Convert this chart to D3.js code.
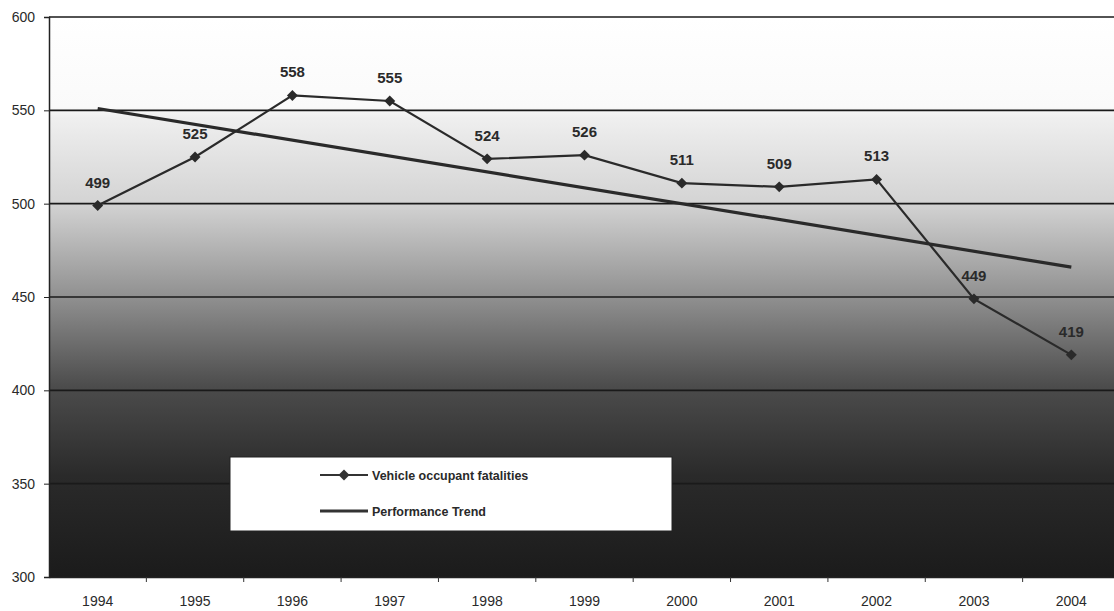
<!DOCTYPE html>
<html><head><meta charset="utf-8">
<script src="https://cdn.jsdelivr.net/npm/d3@7"></script>
<style>body{margin:0;background:#fff;}svg{display:block;}</style>
</head><body>
<svg id="c" width="1114" height="611"></svg>
<script>
const years = ["1994","1995","1996","1997","1998","1999","2000","2001","2002","2003","2004"];
const fatalities = [499,525,558,555,524,526,511,509,513,449,419];
const trendYears = ["1994","2004"];
const trendValues = [551,466];
const yTicks = [300,350,400,450,500,550,600];
const legendLabels = ["Vehicle occupant fatalities","Performance Trend"];

(function(){
const svg = d3.select("#c");
const pL = 49, pR = 1120, pT = 17, pB = 577;
const x = d3.scaleBand().domain(years).range([pL, pR]);
const y = d3.scaleLinear().domain([300,600]).range([pB, pT]);
const cx = d => x(d) + x.bandwidth()/2;
const font = "Arial, Liberation Sans, sans-serif";

const defs = svg.append("defs");
const g = defs.append("linearGradient").attr("id","bg").attr("x1",0).attr("y1",0).attr("x2",0).attr("y2",1);
[[0,"#ffffff"],[0.16,"#fafafa"],[0.18,"#efefef"],[0.33,"#d4d4d4"],[0.5,"#909090"],[0.66,"#4c4c4c"],[0.82,"#2a2a2a"],[1,"#1b1b1b"]]
  .forEach(([o,c]) => g.append("stop").attr("offset",o).attr("stop-color",c));

svg.append("rect").attr("x",pL).attr("y",pT).attr("width",pR-pL).attr("height",pB-pT).attr("fill","url(#bg)");

svg.append("g").selectAll("line").data(yTicks.filter(t=>t>300)).join("line")
  .attr("x1",pL).attr("x2",pR).attr("y1",d=>y(d)).attr("y2",d=>y(d))
  .attr("stroke","#1a1a1a").attr("stroke-width",1.6);

const ya = svg.append("g").attr("transform",`translate(${pL},0)`)
  .call(d3.axisLeft(y).tickValues(yTicks).tickSize(5).tickPadding(9));
ya.attr("font-size",null);
ya.select(".domain").attr("stroke","#222").attr("stroke-width",1.5);
ya.selectAll(".tick line").attr("stroke","#222");
ya.selectAll("text").style("font-family",font).style("font-size","14px").attr("fill","#2a2a2a");

const xa = svg.append("g").attr("transform",`translate(0,${pB})`)
  .call(d3.axisBottom(x).tickSize(0).tickPadding(19));
xa.select(".domain").attr("stroke","#222").attr("stroke-width",1.5);
xa.selectAll("text").style("font-family",font).style("font-size","14px").attr("fill","#2a2a2a");
svg.append("g").selectAll("line").data(years.slice(1)).join("line")
  .attr("x1",d=>x(d)).attr("x2",d=>x(d)).attr("y1",pB).attr("y2",pB+5).attr("stroke","#333");

svg.append("path").datum(trendYears.map((t,i)=>[t,trendValues[i]]))
  .attr("d", d3.line().x(d=>cx(d[0])).y(d=>y(d[1])))
  .attr("fill","none").attr("stroke","#2a2a2a").attr("stroke-width",3.2);

svg.append("path").datum(years.map((t,i)=>[t,fatalities[i]]))
  .attr("d", d3.line().x(d=>cx(d[0])).y(d=>y(d[1])))
  .attr("fill","none").attr("stroke","#2a2a2a").attr("stroke-width",2.2);

const diamond = d3.symbol().type(d3.symbolSquare).size(60);
svg.append("g").selectAll("path").data(years).join("path")
  .attr("d",diamond).attr("transform",(d,i)=>`translate(${cx(d)},${y(fatalities[i])}) rotate(45)`)
  .attr("fill","#2a2a2a");

svg.append("g").selectAll("text").data(years).join("text")
  .attr("x",d=>cx(d)).attr("y",(d,i)=>y(fatalities[i])-18)
  .attr("text-anchor","middle").attr("font-family",font)
  .attr("font-weight","bold").attr("font-size",15).attr("fill","#2a2a2a")
  .text((d,i)=>fatalities[i]);

const lg = svg.append("g");
lg.append("rect").attr("x",230).attr("y",457).attr("width",442).attr("height",74).attr("fill","#fff").attr("stroke","#222").attr("stroke-width",1);
const rows = [475,511];
lg.append("line").attr("x1",320).attr("x2",368).attr("y1",rows[0]).attr("y2",rows[0]).attr("stroke","#333").attr("stroke-width",2);
lg.append("path").attr("d",diamond).attr("transform",`translate(344,${rows[0]}) rotate(45)`).attr("fill","#333");
lg.append("line").attr("x1",320).attr("x2",368).attr("y1",rows[1]).attr("y2",rows[1]).attr("stroke","#333").attr("stroke-width",3.2);
lg.selectAll("text.l").data(legendLabels).join("text")
  .attr("x",372).attr("y",(d,i)=>rows[i]+4.5)
  .attr("font-family",font).attr("font-weight","bold").attr("font-size",12.5).attr("fill","#2a2a2a")
  .text(d=>d);
})();
</script>
</body></html>
